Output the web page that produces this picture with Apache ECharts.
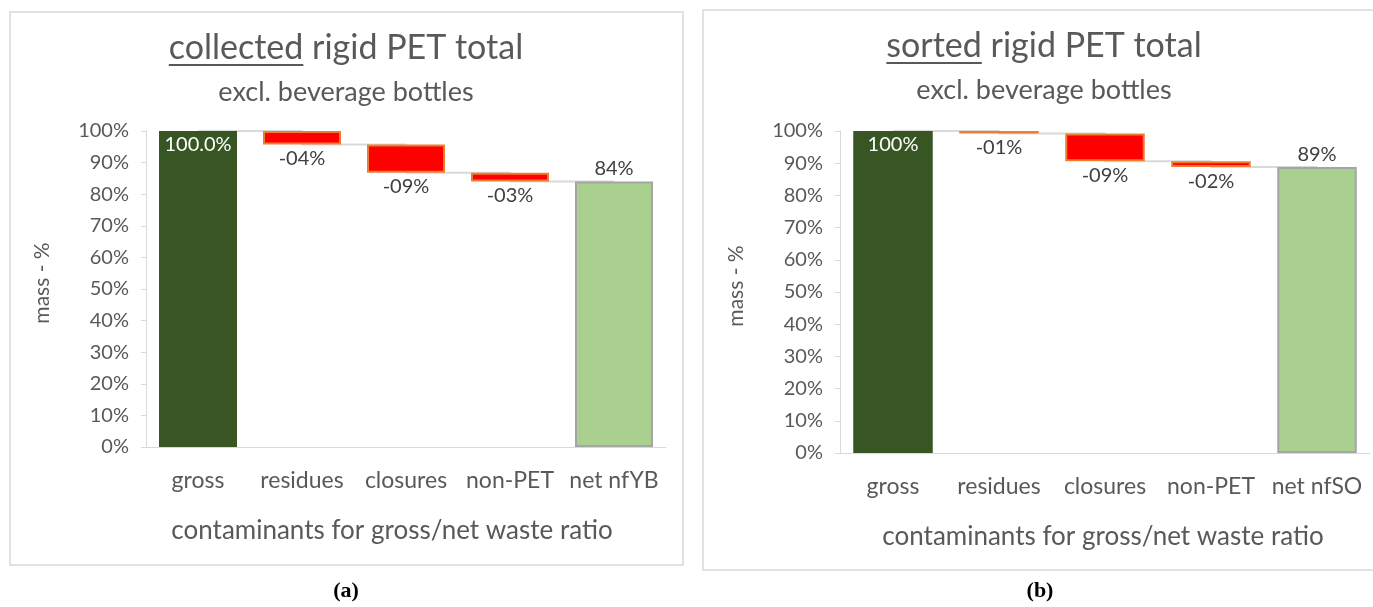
<!DOCTYPE html>
<html>
<head>
<meta charset="utf-8">
<script src="https://cdn.jsdelivr.net/npm/echarts@6/dist/echarts.min.js"></script>
<style>
html, body { margin: 0; padding: 0; background: #fff; }
#main { width: 1373px; height: 607px; }
</style>
</head>
<body>
<div id="main"></div>
<script>
// chart (a): collected
var categoriesA = ['gross', 'residues', 'closures', 'non-PET', 'net nfYB'];
var grossA = 100;
var lossesA = [-4.3, -8.9, -2.8];
// chart (b): sorted
var categoriesB = ['gross', 'residues', 'closures', 'non-PET', 'net nfSO'];
var grossB = 100;
var lossesB = [-0.8, -8.6, -1.8];

var FONT = 'Lato';
var TEXT = '#595959';
var GRID_LINE = '#d9d9d9';

function pad2(n) {
    var r = Math.round(Math.abs(n));
    return (r < 10 ? '0' : '') + r;
}

function measure(txt, size) {
    var c = document.createElement('canvas').getContext('2d');
    c.font = size + 'px ' + FONT;
    return c.measureText(txt).width;
}

// builds the waterfall series for one grid
function waterfall(idx, gross, losses, grossLabel) {
    var base = [0];
    var vals = [gross];
    var levels = [gross];
    var run = gross;
    for (var i = 0; i < losses.length; i++) {
        run = run + losses[i];
        base.push(run);
        vals.push(Math.abs(losses[i]));
        levels.push(run);
    }
    base.push(0);
    levels.push(run);

    var valueData = [];
    valueData.push({
        value: vals[0],
        itemStyle: { color: '#375623', borderWidth: 0 },
        label: { show: true, position: 'insideTop', distance: 4, color: '#fff', fontSize: 20, formatter: grossLabel }
    });
    for (var j = 0; j < losses.length; j++) {
        valueData.push({
            value: vals[j + 1],
            itemStyle: { color: '#ff0000', borderColor: '#ed7d31', borderWidth: 2 },
            label: { show: true, position: 'bottom', distance: 4, color: '#404040', fontSize: 20, formatter: '-' + pad2(losses[j]) + '%' }
        });
    }
    valueData.push({
        value: run,
        itemStyle: { color: '#a9d08e', borderColor: '#a5a5a5', borderWidth: 2 },
        label: { show: true, position: 'top', distance: 3, color: '#404040', fontSize: 20, formatter: Math.round(run) + '%' }
    });

    return [
        {
            type: 'line', xAxisIndex: idx, yAxisIndex: idx, data: levels, step: 'end',
            symbol: 'none', z: 1, silent: true,
            lineStyle: { color: GRID_LINE, width: 2 }
        },
        {
            type: 'bar', xAxisIndex: idx, yAxisIndex: idx, stack: 's' + idx, data: base,
            barWidth: '75%', itemStyle: { color: 'transparent' }, silent: true, z: 2
        },
        {
            type: 'bar', xAxisIndex: idx, yAxisIndex: idx, stack: 's' + idx, data: valueData,
            barWidth: '75%', z: 3, label: { fontFamily: FONT }
        }
    ];
}

function xAxisFor(idx, cats, shift) {
    return {
        type: 'category', gridIndex: idx, data: cats,
        axisLine: { lineStyle: { color: GRID_LINE, width: 1 } },
        axisTick: { show: false },
        axisLabel: { color: TEXT, fontSize: 23, fontFamily: FONT, margin: 22, interval: 0 },
        name: 'contaminants for gross/net waste ratio',
        nameLocation: 'middle', nameGap: 71,
        nameTextStyle: { color: TEXT, fontSize: 26, fontFamily: FONT, padding: [0, shift, 0, 0] }
    };
}

function yAxisFor(idx) {
    return {
        type: 'value', gridIndex: idx, min: 0, max: 100, interval: 10,
        axisLine: { show: true, lineStyle: { color: GRID_LINE } },
        axisTick: { show: true, length: 5, lineStyle: { color: GRID_LINE } },
        splitLine: { show: false },
        axisLabel: { color: TEXT, fontSize: 20, fontFamily: FONT, margin: 17, formatter: '{value}%' },
        name: 'mass - %', nameLocation: 'middle', nameGap: 93, nameRotate: 90,
        nameTextStyle: { color: TEXT, fontSize: 21, fontFamily: FONT, padding: [0, 0, 0, 12] }
    };
}

function titleGraphics(cx, y, under, rest) {
    var full = under + rest;
    var w = measure(full, 34);
    var wu = measure(under, 34);
    var x0 = cx - w / 2;
    return [
        { type: 'text', left: x0, top: y, style: { text: full, font: '34px ' + FONT, fill: TEXT } },
        { type: 'line', shape: { x1: x0, y1: y + 34, x2: x0 + wu, y2: y + 34 }, style: { stroke: TEXT, lineWidth: 2 } }
    ];
}

var myChart = echarts.init(document.getElementById('main'));

var graphics = [
    { type: 'rect', shape: { x: 10, y: 12, width: 673, height: 553 }, style: { fill: 'none', stroke: GRID_LINE, lineWidth: 1.5 }, z: 0 },
    { type: 'rect', shape: { x: 703, y: 10, width: 680, height: 560 }, style: { fill: 'none', stroke: GRID_LINE, lineWidth: 1.5 }, z: 0 }
];
graphics = graphics.concat(titleGraphics(346, 31, 'collected', ' rigid PET total'));
graphics = graphics.concat(titleGraphics(1044, 29, 'sorted', ' rigid PET total'));
graphics.push({ type: 'text', x: 346, y: 92, style: { text: 'excl. beverage bottles', font: '27px ' + FONT, fill: TEXT, align: 'center', verticalAlign: 'middle' } });
graphics.push({ type: 'text', x: 1044, y: 90, style: { text: 'excl. beverage bottles', font: '27px ' + FONT, fill: TEXT, align: 'center', verticalAlign: 'middle' } });
graphics.push({ type: 'text', x: 346, y: 591, style: { text: '(a)', font: 'bold 22px "Liberation Serif"', fill: '#000', align: 'center', verticalAlign: 'middle' } });
graphics.push({ type: 'text', x: 1040, y: 591, style: { text: '(b)', font: 'bold 22px "Liberation Serif"', fill: '#000', align: 'center', verticalAlign: 'middle' } });

var option = {
    animation: false,
    textStyle: { fontFamily: FONT },
    grid: [
        { left: 146, top: 131, width: 520, height: 316 },
        { left: 840, top: 131, width: 530, height: 322 }
    ],
    xAxis: [xAxisFor(0, categoriesA, 28), xAxisFor(1, categoriesB, 4)],
    yAxis: [yAxisFor(0), yAxisFor(1)],
    series: waterfall(0, grossA, lossesA, '100.0%').concat(waterfall(1, grossB, lossesB, '100%')),
    graphic: graphics
};
myChart.setOption(option);
</script>
</body>
</html>
